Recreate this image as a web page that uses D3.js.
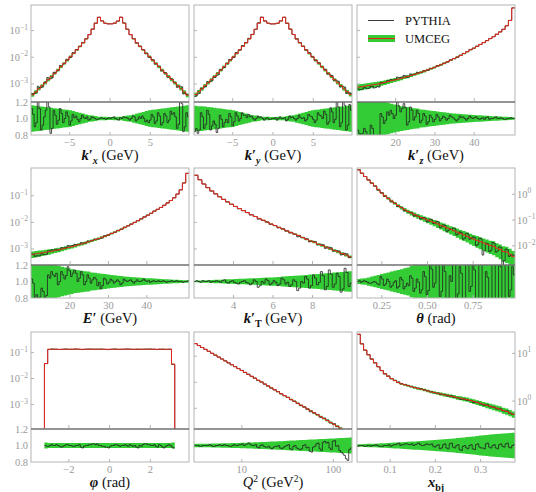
<!DOCTYPE html>
<html>
<head>
<meta charset="utf-8">
<script src="https://cdn.jsdelivr.net/npm/d3@7"></script>
<style>
  body { margin: 0; background: #fff; }
  svg { display: block; }
  text { font-family: "Liberation Serif", "Times New Roman", serif; }
</style>
</head>
<body>
<div id="chart"></div>
<script>
// ---- data (UMCEG = red line + green band, PYTHIA = black) ----
// per panel: UMCEG bin values, relative stat. error of UMCEG (coarse bins),
// and ratio PYTHIA/UMCEG on bins twice as fine

// k'_x
let kxRange = [-9.8, 9.8];
let kxVals = [3.9e-4, 5.0e-4, 6.6e-4, 8.5e-4, 1.1e-3, 1.45e-3, 1.9e-3, 2.5e-3, 3.3e-3, 4.4e-3, 5.9e-3, 7.8e-3, 0.0105, 0.0141, 0.019, 0.0257, 0.0347, 0.049, 0.071, 0.112, 0.19, 0.316, 0.229, 0.19, 0.178,
              0.178, 0.19, 0.229, 0.316, 0.19, 0.112, 0.071, 0.049, 0.0347, 0.0257, 0.019, 0.0141, 0.0105, 7.8e-3, 5.9e-3, 4.4e-3, 3.3e-3, 2.5e-3, 1.9e-3, 1.45e-3, 1.1e-3, 8.5e-4, 6.6e-4, 5.0e-4, 3.8e-4];
let kxErr = [0.16, 0.155, 0.15, 0.145, 0.14, 0.135, 0.13, 0.125, 0.12, 0.115, 0.11, 0.105, 0.10, 0.09, 0.08, 0.07, 0.06, 0.05, 0.04, 0.035, 0.03, 0.022, 0.02, 0.02, 0.018,
             0.018, 0.02, 0.02, 0.022, 0.03, 0.035, 0.04, 0.05, 0.06, 0.07, 0.08, 0.09, 0.10, 0.105, 0.11, 0.115, 0.12, 0.125, 0.13, 0.135, 0.14, 0.145, 0.15, 0.155, 0.16];
let kxRatio = [1.12, 1.05, 0.90, 0.95, 1.24, 1.12, 0.86, 0.92, 1.02, 1.10, 1.20, 1.14, 0.82, 0.88, 1.10, 1.04, 0.93, 0.98, 1.12, 1.06,
               0.95, 1.00, 1.08, 1.03, 0.92, 0.97, 1.05, 1.01, 1.03, 0.99, 0.96, 1.00, 1.04, 1.01, 1.00, 1.02, 0.98, 0.99, 1.02, 1.01,
               1.00, 0.99, 0.99, 1.00, 1.01, 1.00, 1.00, 0.99, 1.00, 1.01, 1.00, 1.01, 1.02, 1.00, 0.99, 0.98, 1.01, 1.00, 1.02, 1.01,
               1.01, 1.00, 0.98, 1.00, 1.03, 1.02, 0.97, 0.99, 1.02, 1.00, 1.03, 1.00, 0.96, 0.98, 0.95, 0.98, 1.05, 1.02, 0.94, 0.97,
               1.07, 1.03, 0.92, 0.95, 1.06, 1.03, 0.95, 0.98, 1.09, 1.05, 1.07, 1.02, 0.88, 0.93, 1.26, 1.18, 0.84, 0.90, 1.07, 1.02];

// k'_y
let kyRange = [-9.8, 9.8];
let kyVals = [4.0e-4, 5.1e-4, 6.5e-4, 8.6e-4, 1.1e-3, 1.44e-3, 1.9e-3, 2.5e-3, 3.3e-3, 4.4e-3, 5.9e-3, 7.8e-3, 0.0104, 0.014, 0.019, 0.0258, 0.0348, 0.049, 0.071, 0.112, 0.19, 0.315, 0.23, 0.19, 0.178,
              0.178, 0.19, 0.23, 0.315, 0.19, 0.112, 0.071, 0.049, 0.0348, 0.0258, 0.019, 0.014, 0.0104, 7.8e-3, 5.9e-3, 4.4e-3, 3.3e-3, 2.5e-3, 1.9e-3, 1.44e-3, 1.1e-3, 8.6e-4, 6.5e-4, 5.1e-4, 4.0e-4];
let kyErr = [0.155, 0.15, 0.15, 0.145, 0.14, 0.135, 0.13, 0.125, 0.12, 0.115, 0.11, 0.105, 0.10, 0.09, 0.08, 0.07, 0.06, 0.05, 0.04, 0.035, 0.03, 0.022, 0.02, 0.02, 0.018,
             0.018, 0.02, 0.02, 0.022, 0.03, 0.035, 0.04, 0.05, 0.06, 0.07, 0.08, 0.09, 0.10, 0.105, 0.11, 0.115, 0.12, 0.125, 0.13, 0.135, 0.14, 0.145, 0.15, 0.155, 0.16];
let kyRatio = [0.84, 0.88, 0.82, 0.86, 1.07, 1.02, 0.88, 0.93, 1.10, 1.05, 0.86, 0.91, 0.97, 0.93, 0.83, 0.88, 1.04, 0.99, 0.90, 0.95,
               0.99, 0.95, 1.06, 1.02, 0.91, 0.96, 1.07, 1.03, 0.97, 1.00, 1.07, 1.04, 1.04, 1.01, 1.05, 1.02, 1.03, 1.00, 0.98, 1.00,
               1.03, 1.01, 1.02, 1.00, 0.98, 1.00, 1.01, 0.99, 0.99, 1.00, 1.00, 1.01, 0.98, 1.00, 1.02, 1.00, 1.00, 1.01, 0.97, 0.99,
               1.03, 1.01, 1.02, 1.00, 0.98, 1.00, 1.04, 1.01, 1.00, 1.01, 0.97, 0.99, 1.05, 1.03, 1.02, 0.99, 0.95, 0.98, 1.07, 1.04,
               1.03, 1.00, 1.09, 1.05, 0.93, 0.96, 1.13, 1.08, 0.95, 0.99, 1.20, 1.14, 0.90, 0.95, 1.24, 1.16, 0.86, 0.92, 1.17, 1.10];

// k'_z
let kzRange = [10.15, 50.4];
let kzVals = [7.6e-4, 7.9e-4, 8.3e-4, 8.7e-4, 9.1e-4, 9.5e-4, 1.0e-3, 1.07e-3, 1.15e-3, 1.23e-3, 1.32e-3, 1.41e-3, 1.51e-3, 1.62e-3, 1.78e-3, 1.91e-3,
              2.09e-3, 2.29e-3, 2.51e-3, 2.75e-3, 3.02e-3, 3.39e-3, 3.72e-3, 4.17e-3, 4.68e-3, 5.25e-3, 5.89e-3, 6.76e-3, 7.76e-3, 8.91e-3, 0.0102, 0.0117,
              0.0138, 0.0162, 0.0191, 0.0219, 0.0257, 0.0302, 0.0355, 0.0417, 0.0501, 0.0589, 0.0724, 0.0891, 0.112, 0.151, 0.240, 0.708];
let kzErr = [0.28, 0.27, 0.26, 0.25, 0.24, 0.23, 0.22, 0.21, 0.2, 0.19, 0.18, 0.17, 0.16, 0.15, 0.145, 0.14, 0.13, 0.125, 0.12, 0.11, 0.105, 0.1, 0.095, 0.09,
             0.085, 0.08, 0.075, 0.07, 0.065, 0.062, 0.058, 0.055, 0.052, 0.048, 0.045, 0.042, 0.04, 0.038, 0.035, 0.033, 0.03, 0.028, 0.026, 0.024, 0.022, 0.02, 0.018, 0.015];
let kzRatio = [0.86, 0.82, 0.78, 0.82, 0.88, 0.84, 0.76, 0.80, 0.92, 0.88, 0.74, 0.78, 0.80, 0.76, 1.06, 1.02, 0.94, 0.98, 1.08, 1.04,
               1.10, 1.06, 1.00, 1.04, 1.20, 1.15, 1.08, 1.12, 1.18, 1.13, 0.92, 0.96, 1.14, 1.10, 0.98, 1.02, 1.10, 1.06, 0.95, 0.98,
               1.06, 1.03, 0.93, 0.96, 1.04, 1.01, 0.96, 0.99, 1.05, 1.02, 0.97, 1.00, 1.03, 1.01, 0.98, 1.00, 1.04, 1.02, 1.01, 0.99,
               0.97, 0.99, 1.03, 1.01, 1.02, 1.00, 0.98, 1.00, 1.03, 1.01, 1.00, 1.01, 1.02, 1.00, 0.99, 1.00, 1.01, 0.99, 1.01, 1.02,
               0.99, 1.00, 1.00, 1.01, 1.02, 1.00, 1.00, 1.01, 1.00, 0.99, 0.99, 1.00, 1.00, 1.01, 1.00, 1.00];

// E'
let eRange = [9.8, 51.0];
let eVals = [6.3e-4, 6.6e-4, 6.9e-4, 7.2e-4, 7.6e-4, 7.9e-4, 8.3e-4, 8.9e-4, 9.3e-4, 1.0e-3, 1.07e-3, 1.15e-3, 1.23e-3, 1.32e-3, 1.45e-3, 1.55e-3,
             1.70e-3, 1.86e-3, 2.04e-3, 2.24e-3, 2.45e-3, 2.75e-3, 3.02e-3, 3.39e-3, 3.80e-3, 4.27e-3, 4.90e-3, 5.62e-3, 6.46e-3, 7.41e-3, 8.51e-3, 0.0100,
             0.0115, 0.0135, 0.0158, 0.0186, 0.0219, 0.0263, 0.0309, 0.0363, 0.0437, 0.0537, 0.0661, 0.0832, 0.115, 0.166, 0.302, 0.692];
let eErr = [0.28, 0.27, 0.26, 0.25, 0.24, 0.23, 0.21, 0.2, 0.19, 0.18, 0.17, 0.16, 0.15, 0.14, 0.135, 0.13, 0.125, 0.12, 0.11, 0.105, 0.1, 0.095, 0.09, 0.085,
            0.08, 0.075, 0.07, 0.066, 0.062, 0.058, 0.055, 0.052, 0.049, 0.046, 0.043, 0.04, 0.038, 0.035, 0.033, 0.03, 0.028, 0.026, 0.024, 0.022, 0.02, 0.018, 0.016, 0.015];
let eRatio = [1.03, 0.98, 0.80, 0.84, 0.79, 0.81, 0.92, 0.88, 0.80, 0.83, 1.08, 1.04, 1.12, 1.08, 1.06, 1.10, 0.96, 1.00, 1.12, 1.08,
              1.03, 1.07, 1.18, 1.13, 1.06, 1.10, 1.14, 1.10, 1.00, 1.04, 1.12, 1.08, 0.96, 1.00, 1.08, 1.04, 0.98, 1.02, 1.05, 1.03,
              0.95, 0.99, 0.91, 0.95, 1.04, 1.02, 0.97, 0.99, 1.03, 1.01, 0.98, 1.00, 1.02, 1.00, 0.96, 0.98, 1.03, 1.01, 1.00, 1.01,
              1.02, 1.00, 0.98, 1.00, 1.02, 1.00, 1.00, 1.01, 1.03, 1.01, 1.00, 1.01, 0.99, 1.00, 1.01, 1.00, 1.00, 1.01, 1.00, 1.00,
              1.01, 1.00, 0.99, 1.00, 1.00, 1.01, 1.00, 1.00, 1.01, 1.00, 1.00, 1.00, 0.99, 1.00, 1.00, 1.01];

// k'_T
let ktRange = [2, 10];
let ktVals = [0.589, 0.398, 0.275, 0.200, 0.151, 0.117, 0.0912, 0.0724, 0.0589, 0.0479, 0.0398, 0.0331, 0.0275, 0.0234, 0.0195, 0.0166, 0.0141, 0.0120, 0.0102, 0.0087,
              0.0076, 0.0065, 0.0056, 0.0048, 0.0042, 0.0036, 0.0032, 0.0027, 0.0023, 0.0020, 0.0018, 0.0015, 0.00135, 0.00117, 0.00102, 0.00089, 0.00078, 0.00068, 0.00059, 0.00051];
let ktErr = [0.01, 0.012, 0.014, 0.016, 0.018, 0.02, 0.022, 0.024, 0.026, 0.028, 0.03, 0.032, 0.034, 0.036, 0.038, 0.04, 0.042, 0.045, 0.048, 0.05,
             0.053, 0.056, 0.06, 0.063, 0.066, 0.07, 0.073, 0.077, 0.08, 0.085, 0.088, 0.092, 0.096, 0.1, 0.104, 0.108, 0.112, 0.116, 0.12, 0.125];
let ktRatio = [1.00, 1.01, 1.00, 0.99, 1.01, 1.00, 1.00, 1.01, 0.99, 1.00, 1.00, 1.01, 1.00, 0.99, 1.01, 1.02, 0.99, 0.98, 1.00, 1.01,
               0.99, 0.98, 0.97, 0.99, 1.00, 1.01, 0.99, 0.98, 0.96, 0.98, 1.02, 1.00, 0.93, 0.95, 1.00, 0.98, 1.03, 1.01, 0.96, 0.98,
               1.01, 0.99, 0.95, 0.97, 1.04, 1.02, 0.97, 0.99, 0.94, 0.96, 1.02, 1.00, 0.89, 0.92, 1.00, 0.98, 1.06, 1.03, 0.92, 0.95,
               1.08, 1.04, 0.96, 0.99, 1.12, 1.07, 0.90, 0.94, 1.14, 1.09, 0.93, 0.97, 1.10, 1.06, 0.87, 0.91, 1.16, 1.11, 0.94, 0.98];

// theta
let thRange = [0.114, 0.979];
let thVals = [8.91, 6.61, 4.90, 3.63, 2.75, 2.09, 1.51, 1.12, 0.871, 0.692, 0.550, 0.447, 0.363, 0.302, 0.251, 0.214, 0.186, 0.162, 0.141, 0.126,
              0.112, 0.100, 0.0891, 0.0794, 0.0708, 0.0617, 0.0550, 0.0490, 0.0427, 0.0380, 0.0339, 0.0295, 0.0263, 0.0234, 0.0204, 0.0182, 0.0162, 0.0145,
              0.0129, 0.0115, 0.0102, 0.0096, 0.0081, 0.0072, 0.0060, 0.0057, 0.0047, 0.0038];
let thErr = [0.03, 0.035, 0.04, 0.05, 0.06, 0.07, 0.08, 0.09, 0.1, 0.11, 0.12, 0.13, 0.14, 0.15, 0.16, 0.17, 0.19, 0.2, 0.21, 0.22, 0.24, 0.25, 0.27, 0.28,
             0.3, 0.31, 0.33, 0.34, 0.36, 0.37, 0.39, 0.4, 0.42, 0.43, 0.45, 0.46, 0.48, 0.49, 0.5, 0.52, 0.53, 0.55, 0.56, 0.58, 0.6, 0.62, 0.64, 0.66];
let thRatio = [1.00, 1.01, 0.99, 1.00, 1.01, 1.00, 0.99, 0.98, 0.98, 0.99, 1.00, 0.99, 0.97, 0.96, 1.06, 1.03, 0.95, 0.97, 1.03, 1.00,
               0.93, 0.95, 0.99, 1.01, 0.92, 0.94, 1.05, 1.02, 0.91, 0.94, 0.98, 0.95, 1.07, 1.04, 0.88, 0.92, 1.03, 0.99, 0.86, 0.90,
               1.12, 1.06, 0.84, 0.89, 1.24, 1.15, 0.93, 0.98, 1.28, 1.20, 0.82, 0.88, 1.20, 1.12, 0.72, 0.80, 1.07, 1.00, 1.30, 1.22,
               0.78, 0.85, 1.18, 1.10, 0.68, 0.75, 1.32, 1.24, 0.88, 0.94, 1.22, 1.14, 0.62, 0.70, 1.38, 1.28, 0.34, 0.50, 1.12, 1.05,
               0.58, 0.66, 1.42, 1.30, 0.70, 0.78, 1.27, 1.18, 0.28, 0.45, 1.32, 1.22, 0.82, 0.90, 1.18, 1.08];

// phi
let phiRange = [-3.2, 3.2];
let phiVals = [0.038, 0.134, 0.136, 0.135, 0.133, 0.135, 0.136, 0.134, 0.135, 0.137, 0.135, 0.134, 0.135, 0.136, 0.135, 0.134, 0.135, 0.136, 0.135, 0.134,
               0.135, 0.136, 0.134, 0.135, 0.135, 0.137, 0.135, 0.134, 0.136, 0.135, 0.134, 0.135, 0.136, 0.135, 0.134, 0.135, 0.136, 0.134, 0.135, 0.036];
let phiErr = [0.035, 0.03, 0.03, 0.03, 0.03, 0.03, 0.03, 0.03, 0.03, 0.03, 0.03, 0.03, 0.03, 0.03, 0.03, 0.03, 0.03, 0.03, 0.03, 0.03,
              0.03, 0.03, 0.03, 0.03, 0.03, 0.03, 0.03, 0.03, 0.03, 0.03, 0.03, 0.03, 0.03, 0.03, 0.03, 0.03, 0.03, 0.03, 0.03, 0.035];
let phiRatio = [1.00, 0.99, 0.99, 1.00, 1.01, 1.00, 1.00, 1.01, 1.00, 0.99, 0.98, 0.99, 1.00, 1.01, 1.01, 1.00, 1.00, 0.99, 0.99, 1.00,
                1.00, 1.01, 0.98, 0.97, 0.99, 1.00, 1.00, 1.01, 1.01, 1.02, 1.02, 1.01, 1.02, 1.00, 1.00, 0.99, 0.99, 0.98, 0.98, 0.97,
                0.99, 1.00, 1.00, 1.01, 1.01, 1.00, 0.99, 1.00, 1.00, 1.01, 1.00, 0.99, 1.01, 1.00, 0.99, 1.00, 0.98, 0.97, 1.00, 0.99,
                1.01, 1.02, 1.02, 1.01, 1.01, 1.00, 1.00, 1.01, 0.99, 0.98, 1.01, 1.00, 0.98, 0.97, 0.99, 1.00, 1.01, 1.00, 0.98, 0.97];

// Q^2 (log bins)
let q2Range = [3, 160];
let q2Vals = [0.304, 0.256, 0.216, 0.183, 0.154, 0.130, 0.110, 0.0925, 0.0781, 0.0659, 0.0556, 0.0469, 0.0396, 0.0334, 0.0282, 0.0238, 0.0200, 0.0169,
              0.0143, 0.0120, 0.0102, 0.00857, 0.00723, 0.00611, 0.00515, 0.00435, 0.00366, 0.00309, 0.00261, 0.00220, 0.00186, 0.00157, 0.00132, 0.00112,
              0.000942, 0.000794, 0.000670, 0.000565, 0.000477, 0.000403, 0.000340, 0.000286, 0.000242, 0.000204, 0.000172, 0.000145, 0.000122, 0.000103];
let q2Err = [0.02, 0.02, 0.021, 0.022, 0.022, 0.023, 0.024, 0.025, 0.026, 0.027, 0.028, 0.029, 0.03, 0.031, 0.032, 0.034, 0.035, 0.037, 0.038, 0.04,
             0.042, 0.043, 0.045, 0.047, 0.049, 0.051, 0.053, 0.055, 0.057, 0.06, 0.062, 0.064, 0.066, 0.068, 0.07, 0.072, 0.074, 0.076, 0.078, 0.08,
             0.082, 0.084, 0.086, 0.088, 0.09, 0.092, 0.094, 0.096];
let q2Ratio = [1.00, 1.00, 1.00, 0.99, 0.99, 1.00, 1.00, 1.00, 1.00, 1.01, 1.00, 0.99, 0.99, 1.00, 1.00, 1.01, 1.00, 1.00, 1.01, 1.00,
               1.00, 0.99, 0.99, 1.00, 1.01, 1.00, 1.00, 1.01, 1.01, 1.02, 1.00, 1.01, 1.02, 1.03, 1.01, 1.00, 1.00, 1.01, 0.98, 0.97,
               1.00, 1.01, 0.99, 0.98, 0.98, 0.99, 0.97, 0.96, 0.98, 0.99, 0.99, 1.00, 0.97, 0.96, 0.98, 0.99, 1.00, 1.01, 0.96, 0.95,
               0.99, 1.00, 0.97, 0.96, 0.95, 0.96, 1.00, 1.01, 0.97, 0.98, 0.93, 0.92, 0.98, 0.99, 1.02, 1.03, 0.96, 0.94, 1.04, 1.05,
               1.03, 1.04, 0.97, 0.95, 1.05, 1.06, 0.99, 1.00, 0.94, 0.92, 0.90, 0.88, 0.84, 0.82, 0.95, 0.97];

// x_bj
let xbjRange = [0.0267, 0.376];
let xbjVals = [25.1, 15.8, 11.7, 9.33, 7.59, 6.31, 5.25, 4.37, 3.72, 3.31, 2.95, 2.69, 2.45, 2.29, 2.19, 2.09, 2.00, 1.91, 1.82, 1.78, 1.70, 1.62, 1.55, 1.51,
               1.45, 1.41, 1.35, 1.32, 1.26, 1.23, 1.17, 1.15, 1.10, 1.07, 1.02, 0.977, 0.933, 0.891, 0.851, 0.813, 0.776, 0.741, 0.708, 0.676, 0.631, 0.603, 0.562, 0.525];
let xbjErr = [0.015, 0.016, 0.018, 0.02, 0.021, 0.022, 0.024, 0.026, 0.028, 0.03, 0.033, 0.035, 0.037, 0.04, 0.042, 0.045, 0.047, 0.05, 0.052, 0.055,
              0.058, 0.06, 0.063, 0.066, 0.07, 0.073, 0.076, 0.079, 0.082, 0.086, 0.09, 0.094, 0.098, 0.102, 0.106, 0.11, 0.115, 0.12, 0.124, 0.128,
              0.132, 0.136, 0.14, 0.143, 0.146, 0.149, 0.152, 0.155];
let xbjRatio = [0.99, 1.00, 1.00, 1.00, 0.99, 0.99, 1.00, 1.00, 0.99, 1.00, 1.00, 1.01, 1.00, 0.99, 0.99, 0.99, 1.00, 1.00, 1.00, 1.01,
                0.99, 1.00, 1.01, 1.01, 1.02, 1.03, 1.00, 1.01, 1.01, 1.02, 1.02, 1.01, 1.01, 1.02, 1.00, 1.01, 1.02, 1.03, 1.01, 1.00,
                1.00, 1.01, 1.02, 1.01, 1.01, 1.02, 0.99, 0.98, 1.00, 1.01, 0.96, 0.97, 1.01, 1.02, 0.97, 0.96, 1.02, 1.03, 0.98, 0.97,
                1.00, 1.01, 0.95, 0.94, 0.99, 1.00, 0.97, 0.96, 1.00, 1.01, 0.96, 0.95, 1.01, 1.02, 0.98, 0.97, 0.97, 0.96, 1.02, 1.03,
                0.98, 0.97, 1.00, 1.01, 0.97, 0.96, 1.01, 1.02, 0.99, 0.98, 1.02, 1.03, 0.98, 0.97, 1.00, 1.01];

// axis ticks and labels
let kTicks = [-5, 0, 5], kTickLabels = ["−5", "0", "5"];
let eTicks = [20, 30, 40], eTickLabels = ["20", "30", "40"];
let ktTicks = [4, 6, 8], ktTickLabels = ["4", "6", "8"];
let thTicks = [0.25, 0.5, 0.75], thTickLabels = ["0.25", "0.50", "0.75"];
let phiTicks = [-2, 0, 2], phiTickLabels = ["−2", "0", "2"];
let q2Ticks = [10, 100], q2TickLabels = ["10", "100"];
let xbjTicks = [0.1, 0.2, 0.3], xbjTickLabels = ["0.1", "0.2", "0.3"];
let ratioTicks = [1.2, 1.0, 0.8], ratioTickLabels = ["1.2", "1.0", "0.8"];
let legendLabels = ["PYTHIA", "UMCEG"];

// ---- layout ----
const W = 536, H = 492;
const colX = [31, 194, 357], rowY = [5, 168, 332];
const pw = 158, mainH = 97, ratH = 33;
const GREEN = "#34cc34", RED = "#e3261f", BLACK = "#222", FRAME = "#b4b4b4", TICKTXT = "#9a9a9a";

let panels = [
  { row: 0, col: 0, xDom: [-9.8, 9.8], bins: kxRange, vals: kxVals, err: kxErr, ratio: kxRatio, yDom: [2.1e-4, 0.91], yTicks: [-1, -2, -3], yLab: "left",
    xTicks: kTicks, xLabels: kTickLabels, title: [["k", "bi"], ["′", "b"], ["x", "sub"], [" (GeV)", "n"]] },
  { row: 0, col: 1, xDom: [-9.8, 9.8], bins: kyRange, vals: kyVals, err: kyErr, ratio: kyRatio, yDom: [2.1e-4, 0.91], yTicks: [-1, -2, -3], yLab: null,
    xTicks: kTicks, xLabels: kTickLabels, title: [["k", "bi"], ["′", "b"], ["y", "sub"], [" (GeV)", "n"]] },
  { row: 0, col: 2, xDom: [10.15, 50.4], bins: kzRange, vals: kzVals, err: kzErr, ratio: kzRatio, yDom: [2.1e-4, 0.91], yTicks: [-1, -2, -3], yLab: null,
    xTicks: eTicks, xLabels: eTickLabels, title: [["k", "bi"], ["′", "b"], ["z", "sub"], [" (GeV)", "n"]], legend: true },
  { row: 1, col: 0, xDom: [9.8, 51.0], bins: eRange, vals: eVals, err: eErr, ratio: eRatio, yDom: [2.5e-4, 1.1], yTicks: [-1, -2, -3], yLab: "left",
    xTicks: eTicks, xLabels: eTickLabels, title: [["E", "bi"], ["′", "b"], [" (GeV)", "n"]] },
  { row: 1, col: 1, xDom: [2, 10], bins: ktRange, vals: ktVals, err: ktErr, ratio: ktRatio, yDom: [2.5e-4, 1.1], yTicks: [-1, -2, -3], yLab: null,
    xTicks: ktTicks, xLabels: ktTickLabels, title: [["k", "bi"], ["′", "b"], ["T", "subr"], [" (GeV)", "n"]] },
  { row: 1, col: 2, xDom: [0.114, 0.979], bins: thRange, vals: thVals, err: thErr, ratio: thRatio, yDom: [1.8e-3, 10.5], yTicks: [0, -1, -2], yLab: "right",
    xTicks: thTicks, xLabels: thTickLabels, title: [["θ", "bi"], [" (rad)", "n"]] },
  { row: 2, col: 0, xDom: [-3.86, 3.9], bins: phiRange, vals: phiVals, err: phiErr, ratio: phiRatio, yDom: [1.15e-4, 0.62], yTicks: [-1, -2, -3], yLab: "left",
    xTicks: phiTicks, xLabels: phiTickLabels, title: [["φ", "bi"], [" (rad)", "n"]] },
  { row: 2, col: 1, xDom: [3, 160], logx: true, bins: q2Range, vals: q2Vals, err: q2Err, ratio: q2Ratio, yDom: [1.6e-4, 0.85], yTicks: [-1, -2, -3], yLab: null,
    xTicks: q2Ticks, xLabels: q2TickLabels, title: [["Q", "i"], ["2", "sup"], [" (GeV", "n"], ["2", "sup"], [")", "n"]] },
  { row: 2, col: 2, xDom: [0.0267, 0.376], bins: xbjRange, vals: xbjVals, err: xbjErr, ratio: xbjRatio, yDom: [0.259, 28], yTicks: [1, 0], yLab: "right",
    xTicks: xbjTicks, xLabels: xbjTickLabels, title: [["x", "bi"], ["bj", "subb"]] }
];

const svg = d3.select("#chart").append("svg").attr("width", W).attr("height", H);
const defs = svg.append("defs");

function binEdges(p, n) {
  let e = [];
  for (let i = 0; i <= n; i++) {
    let t = i / n;
    e.push(p.logx ? p.bins[0] * Math.pow(p.bins[1] / p.bins[0], t)
                  : p.bins[0] + t * (p.bins[1] - p.bins[0]));
  }
  return e;
}

function steps(edges, vals) {
  let pts = [];
  vals.forEach((v, i) => { pts.push([edges[i], v], [edges[i + 1], v]); });
  return pts;
}

function bandSteps(edges, lo, hi) {
  let pts = [];
  lo.forEach((l, i) => { pts.push([edges[i], l, hi[i]], [edges[i + 1], l, hi[i]]); });
  return pts;
}

function addTitle(g, parts, cx, cy) {
  let t = g.append("text").attr("x", cx).attr("y", cy).attr("text-anchor", "middle")
    .attr("font-size", 14.5).attr("fill", "#111");
  let shift = 0;
  parts.forEach(([s, st]) => {
    let target = 0, ts = t.append("tspan").text(s);
    if (st === "bi") ts.attr("font-weight", "bold").attr("font-style", "italic");
    if (st === "b") ts.attr("font-weight", "bold");
    if (st === "i") ts.attr("font-style", "italic");
    if (st === "sub" || st === "subr" || st === "subb") {
      target = 4;
      ts.attr("font-size", 10).attr("font-weight", "bold");
      if (st === "sub") ts.attr("font-style", "italic");
    }
    if (st === "sup") { target = -5; ts.attr("font-size", 9.5); }
    if (target !== shift) ts.attr("dy", target - shift);
    shift = target;
  });
}

function powLabel(g, x, y, e, anchor) {
  let t = g.append("text").attr("x", x).attr("y", y).attr("text-anchor", anchor)
    .attr("font-size", 10.5).attr("fill", TICKTXT);
  t.append("tspan").text("10");
  t.append("tspan").text(String(e).replace("-", "−")).attr("font-size", 7.5).attr("dy", -4.5);
}

panels.forEach((p, k) => {
  let g = svg.append("g").attr("transform", `translate(${colX[p.col]},${rowY[p.row]})`);
  let x = (p.logx ? d3.scaleLog() : d3.scaleLinear()).domain(p.xDom).range([0, pw]);
  let y = d3.scaleLog().domain(p.yDom).range([mainH, 0]);
  let yr = d3.scaleLinear().domain([0.8, 1.2]).range([mainH + ratH, mainH]);
  let n = p.vals.length, m = p.ratio.length;
  let edges = binEdges(p, n), fine = binEdges(p, m);

  defs.append("clipPath").attr("id", "cm" + k).append("rect").attr("width", pw).attr("height", mainH);
  defs.append("clipPath").attr("id", "cr" + k).append("rect").attr("y", mainH).attr("width", pw).attr("height", ratH);

  let lo = p.vals.map((v, i) => v * (1 - p.err[i]));
  let hi = p.vals.map((v, i) => v * (1 + p.err[i]));
  let pythia = p.ratio.map((r, i) => p.vals[Math.floor(i * n / m)] * r);

  // drop the outline to the floor only where the binning ends inside the axis
  let floor = p.yDom[0] * 0.3;
  let inside = p.bins[0] > p.xDom[0];
  let wrap = (pts, ed, cnt) => inside ? [[ed[0], floor]].concat(pts, [[ed[cnt], floor]]) : pts;

  // main panel
  let gm = g.append("g").attr("clip-path", `url(#cm${k})`);
  gm.append("path").datum(bandSteps(edges, lo, hi))
    .attr("d", d3.area().x(d => x(d[0])).y0(d => y(d[1])).y1(d => y(d[2])))
    .attr("fill", GREEN);
  let line = d3.line().x(d => x(d[0])).y(d => y(d[1]));
  gm.append("path").datum(wrap(steps(fine, pythia), fine, m))
    .attr("d", line).attr("fill", "none").attr("stroke", BLACK).attr("stroke-width", 0.8);
  gm.append("path").datum(wrap(steps(edges, p.vals), edges, n))
    .attr("d", line).attr("fill", "none").attr("stroke", RED).attr("stroke-width", 1);

  // ratio panel
  let gr = g.append("g").attr("clip-path", `url(#cr${k})`);
  gr.append("path").datum(bandSteps(edges, p.err.map(e => 1 - e), p.err.map(e => 1 + e)))
    .attr("d", d3.area().x(d => x(d[0])).y0(d => yr(d[1])).y1(d => yr(d[2])))
    .attr("fill", GREEN);
  gr.append("path").datum(steps(fine, p.ratio))
    .attr("d", d3.line().x(d => x(d[0])).y(d => yr(d[1])))
    .attr("fill", "none").attr("stroke", BLACK).attr("stroke-width", 0.8);

  // frames
  g.append("rect").attr("width", pw).attr("height", mainH + ratH)
    .attr("fill", "none").attr("stroke", FRAME).attr("stroke-width", 1);
  g.append("line").attr("x1", 0).attr("x2", pw).attr("y1", mainH).attr("y2", mainH)
    .attr("stroke", "#707070").attr("stroke-width", 1.6);

  // x ticks
  p.xTicks.forEach((t, i) => {
    let px = x(t);
    g.append("line").attr("x1", px).attr("x2", px).attr("y1", mainH - 1).attr("y2", mainH - 4).attr("stroke", FRAME);
    g.append("line").attr("x1", px).attr("x2", px).attr("y1", mainH + ratH).attr("y2", mainH + ratH - 3).attr("stroke", FRAME);
    g.append("text").attr("x", px).attr("y", mainH + ratH + 10.5).attr("text-anchor", "middle")
      .attr("font-size", 10.5).attr("fill", TICKTXT).text(p.xLabels[i]);
  });

  // y ticks (decades)
  let sideX = p.yLab === "right" ? pw : 0, dir = p.yLab === "right" ? -1 : 1;
  p.yTicks.forEach(e => {
    let py = y(Math.pow(10, e));
    g.append("line").attr("x1", sideX).attr("x2", sideX + dir * 3).attr("y1", py).attr("y2", py).attr("stroke", FRAME);
    if (p.yLab === "left") powLabel(g, -3, py + 3.5, e, "end");
    if (p.yLab === "right") powLabel(g, pw + 2, py + 3.5, e, "start");
  });
  if (p.col === 0) {
    ratioTicks.forEach((t, i) => {
      g.append("text").attr("x", -3).attr("y", yr(t) + 3.5).attr("text-anchor", "end")
        .attr("font-size", 10.5).attr("fill", TICKTXT).text(ratioTickLabels[i]);
    });
  }

  addTitle(g, p.title, pw / 2, mainH + ratH + 25);

  if (p.legend) {
    let lg = g.append("g");
    lg.append("line").attr("x1", 11).attr("x2", 37).attr("y1", 15.5).attr("y2", 15.5)
      .attr("stroke", BLACK).attr("stroke-width", 0.9);
    lg.append("rect").attr("x", 11).attr("y", 30).attr("width", 27).attr("height", 7).attr("fill", GREEN);
    lg.append("line").attr("x1", 11).attr("x2", 38).attr("y1", 33.5).attr("y2", 33.5)
      .attr("stroke", RED).attr("stroke-width", 1.1);
    legendLabels.forEach((s, i) => {
      lg.append("text").attr("x", 48).attr("y", 19.5 + i * 18).attr("font-size", 12.5)
        .attr("fill", "#111").text(s);
    });
  }
});
</script>
</body>
</html>
